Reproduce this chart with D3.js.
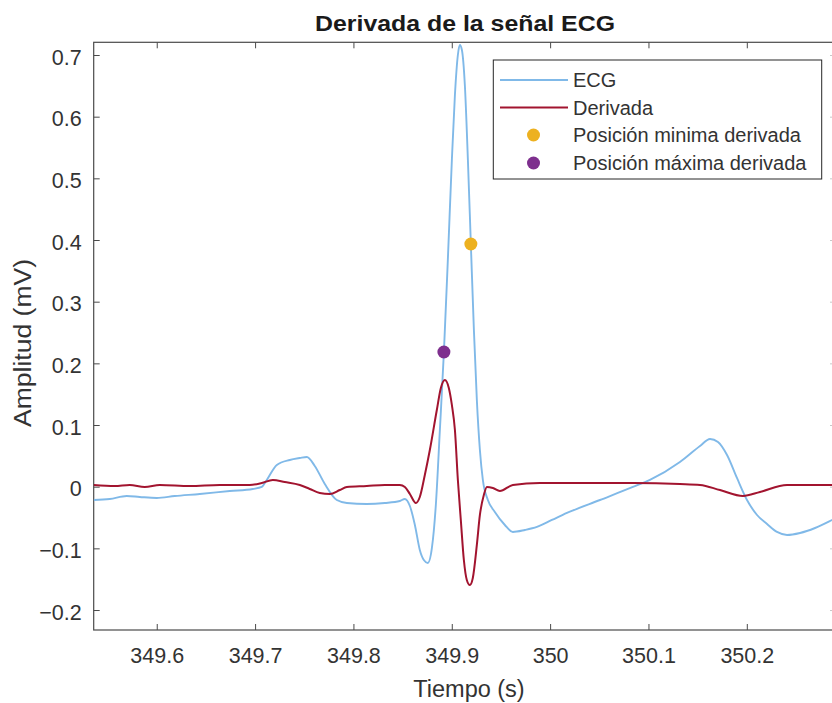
<!DOCTYPE html>
<html>
<head>
<meta charset="utf-8">
<script src="https://cdn.jsdelivr.net/npm/d3@7"></script>
<style>
  html, body { margin: 0; padding: 0; background: #fff; }
  svg { display: block; font-family: "Liberation Sans", Arial, Helvetica, sans-serif; }
</style>
</head>
<body>
<svg id="chart" width="832" height="703"></svg>
<script>
// ECG segment (s, mV)
const ecgTime = [349.5359, 349.5522, 349.5695, 349.5827, 349.6000, 349.6183, 349.6437, 349.6743, 349.6977, 349.7068,
  349.7119, 349.7221, 349.7353, 349.7455, 349.7526, 349.7607, 349.7709, 349.7831, 349.7933, 349.8136,
  349.8319, 349.8472, 349.8523, 349.8574, 349.8625, 349.8675, 349.8716, 349.8757, 349.8798, 349.8838,
  349.8879, 349.8920, 349.8960, 349.9001, 349.9032, 349.9062, 349.9082, 349.9103, 349.9133, 349.9164,
  349.9194, 349.9225, 349.9255, 349.9286, 349.9316, 349.9367, 349.9438, 349.9540, 349.9621, 349.9744,
  349.9866, 350.0018, 350.0171, 350.0507, 350.0842, 350.1015, 350.1320, 350.1524, 350.1626, 350.1707,
  350.1799, 350.1900, 350.2002, 350.2104, 350.2206, 350.2307, 350.2409, 350.2541, 350.2694, 350.2867, 350.2907];
const ecgValue = [-0.0216, -0.0199, -0.0151, -0.0167, -0.0183, -0.0151, -0.0118, -0.0070, -0.0037, -0.0005,
  0.0109, 0.0352, 0.0433, 0.0465, 0.0482, 0.0336, 0.0044, -0.0216, -0.0264, -0.0280,
  -0.0264, -0.0232, -0.0199, -0.0313, -0.0621, -0.1026, -0.1189, -0.1237, -0.0994, -0.0297,
  0.0919, 0.2184, 0.3676, 0.5298, 0.6352, 0.7000, 0.7162, 0.7081, 0.6514, 0.5298,
  0.3935, 0.2540, 0.1405, 0.0595, 0.0109, -0.0216, -0.0410, -0.0621, -0.0734, -0.0702,
  -0.0653, -0.0540, -0.0426, -0.0216, -0.0005, 0.0109, 0.0400, 0.0660, 0.0774, 0.0725,
  0.0514, 0.0141, -0.0216, -0.0459, -0.0605, -0.0734, -0.0783, -0.0751, -0.0670, -0.0540, -0.0508];

// Derivative of the ECG (scaled)
const derTime = [349.5359, 349.5573, 349.5725, 349.5878, 349.6031, 349.6336, 349.6641, 349.6946, 349.7068, 349.7180,
  349.7302, 349.7455, 349.7556, 349.7658, 349.7760, 349.7862, 349.7933, 349.8136, 349.8319, 349.8472,
  349.8523, 349.8574, 349.8635, 349.8675, 349.8726, 349.8777, 349.8848, 349.8889, 349.8930, 349.8970,
  349.9001, 349.9032, 349.9062, 349.9092, 349.9123, 349.9153, 349.9184, 349.9214, 349.9255, 349.9286,
  349.9326, 349.9357, 349.9418, 349.9489, 349.9621, 349.9896, 350.0303, 350.0842, 350.1320, 350.1524,
  350.1727, 350.1961, 350.2134, 350.2409, 350.2907];
const derValue = [0.0028, 0.0011, 0.0028, -0.0005, 0.0028, 0.0011, 0.0028, 0.0028, 0.0060, 0.0109,
  0.0076, 0.0028, -0.0037, -0.0102, -0.0118, -0.0054, -0.0005, 0.0011, 0.0028, 0.0028,
  -0.0005, -0.0118, -0.0264, -0.0167, 0.0190, 0.0595, 0.1244, 0.1600, 0.1730, 0.1600,
  0.1325, 0.0919, 0.0109, -0.0540, -0.1189, -0.1513, -0.1595, -0.1481, -0.0945, -0.0459,
  -0.0135, -0.0005, -0.0021, -0.0070, 0.0028, 0.0060, 0.0060, 0.0060, 0.0044, 0.0028,
  -0.0054, -0.0151, -0.0086, 0.0028, 0.0028];

// ECG points at the derivative extremes
const minDerPos = { t: 349.9194, v: 0.3935 };
const maxDerPos = { t: 349.8920, v: 0.2184 };

const xTicks = [349.6, 349.7, 349.8, 349.9, 350, 350.1, 350.2];
const yTicks = [-0.2, -0.1, 0, 0.1, 0.2, 0.3, 0.4, 0.5, 0.6, 0.7];
const legendLabels = ["ECG", "Derivada", "Posición minima derivada", "Posición máxima derivada"];

const colors = { ecg: "#80b9e8", der: "#a2142f", min: "#edb120", max: "#7e2f8e", axis: "#4a4a4a", text: "#333333" };

const svg = d3.select("#chart");
const L = 93.7, T = 42.3, R = 836, B = 630;

const x = d3.scaleLinear().domain([349.5359, 350.2907]).range([L, R]);
const y = d3.scaleLinear().domain([-0.2324, 0.7206]).range([B, T]);

// Clip region for the traces
svg.append("defs").append("clipPath").attr("id", "plotClip")
  .append("rect").attr("x", L).attr("y", T).attr("width", R - L).attr("height", B - T);

const fmt = d => (d === 0 ? "0" : d3.format("")(+d.toFixed(1)));

// Axes with inward ticks
const axisFont = g => g.selectAll("text").attr("font-size", "21.5px").attr("fill", colors.text)
  .attr("font-family", '"Liberation Sans", Arial, sans-serif');
const cleanAxis = g => { g.select(".domain").remove(); g.selectAll(".tick line").attr("stroke", colors.axis); };

svg.append("g").attr("transform", `translate(0,${B})`)
  .call(d3.axisBottom(x).tickValues(xTicks).tickFormat(fmt).tickSizeInner(-6).tickSizeOuter(0).tickPadding(18))
  .call(cleanAxis).call(axisFont);
svg.append("g").attr("transform", `translate(0,${T})`)
  .call(d3.axisTop(x).tickValues(xTicks).tickFormat("").tickSizeInner(-6).tickSizeOuter(0))
  .call(cleanAxis);
svg.append("g").attr("transform", `translate(${L},0)`)
  .call(d3.axisLeft(y).tickValues(yTicks).tickFormat(fmt).tickSizeInner(-6).tickSizeOuter(0).tickPadding(12))
  .call(cleanAxis).call(axisFont)
  .selectAll("text").attr("dy", "0.42em");
svg.append("g").attr("transform", `translate(${R},0)`)
  .call(d3.axisRight(y).tickValues(yTicks).tickFormat("").tickSizeInner(-6).tickSizeOuter(0))
  .call(cleanAxis)
  .selectAll(".tick line").attr("stroke", "#c8c8c8");

// Axes box
svg.append("rect").attr("x", L).attr("y", T).attr("width", R - L).attr("height", B - T)
  .attr("fill", "none").attr("stroke", colors.axis).attr("stroke-width", 1.2);

// Traces
const plot = svg.append("g").attr("clip-path", "url(#plotClip)");
const line = d3.line().x(d => x(d[0])).y(d => y(d[1])).curve(d3.curveMonotoneX);

plot.append("path").datum(d3.zip(ecgTime, ecgValue)).attr("d", line)
  .attr("fill", "none").attr("stroke", colors.ecg).attr("stroke-width", 1.9).attr("stroke-linejoin", "round");
plot.append("path").datum(d3.zip(derTime, derValue)).attr("d", line)
  .attr("fill", "none").attr("stroke", colors.der).attr("stroke-width", 2).attr("stroke-linejoin", "round");

plot.append("circle").attr("cx", x(minDerPos.t)).attr("cy", y(minDerPos.v)).attr("r", 6.5).attr("fill", colors.min);
plot.append("circle").attr("cx", x(maxDerPos.t)).attr("cy", y(maxDerPos.v)).attr("r", 6.5).attr("fill", colors.max);

// Title and axis labels
svg.append("text").attr("x", 465).attr("y", 31).attr("text-anchor", "middle")
  .attr("font-size", "22px").attr("font-weight", "bold").attr("fill", "#1a1a1a")
  .attr("textLength", 300).attr("lengthAdjust", "spacingAndGlyphs")
  .text("Derivada de la señal ECG");
svg.append("text").attr("x", 469).attr("y", 697).attr("text-anchor", "middle")
  .attr("font-size", "23.5px").attr("fill", colors.text).text("Tiempo (s)");
svg.append("text").attr("transform", "translate(31,343) rotate(-90)").attr("text-anchor", "middle")
  .attr("font-size", "23px").attr("fill", colors.text)
  .attr("textLength", 168).attr("lengthAdjust", "spacingAndGlyphs")
  .text("Amplitud (mV)");

// Legend
const lg = svg.append("g");
lg.append("rect").attr("x", 493.3).attr("y", 60).attr("width", 328.4).attr("height", 119)
  .attr("fill", "#fff").attr("stroke", "#262626").attr("stroke-width", 1);
const rowY = [80, 107.5, 135, 163];
lg.append("line").attr("x1", 500).attr("x2", 568).attr("y1", rowY[0]).attr("y2", rowY[0])
  .attr("stroke", colors.ecg).attr("stroke-width", 1.9);
lg.append("line").attr("x1", 500).attr("x2", 568).attr("y1", rowY[1]).attr("y2", rowY[1])
  .attr("stroke", colors.der).attr("stroke-width", 2);
lg.append("circle").attr("cx", 533.5).attr("cy", rowY[2]).attr("r", 6.5).attr("fill", colors.min);
lg.append("circle").attr("cx", 533.5).attr("cy", rowY[3]).attr("r", 6.5).attr("fill", colors.max);
lg.selectAll("text.lab").data(legendLabels).join("text").attr("class", "lab")
  .attr("x", 573).attr("y", (d, i) => rowY[i]).attr("dy", "0.36em")
  .attr("font-size", "20px").attr("fill", colors.text).text(d => d);
</script>
</body>
</html>
